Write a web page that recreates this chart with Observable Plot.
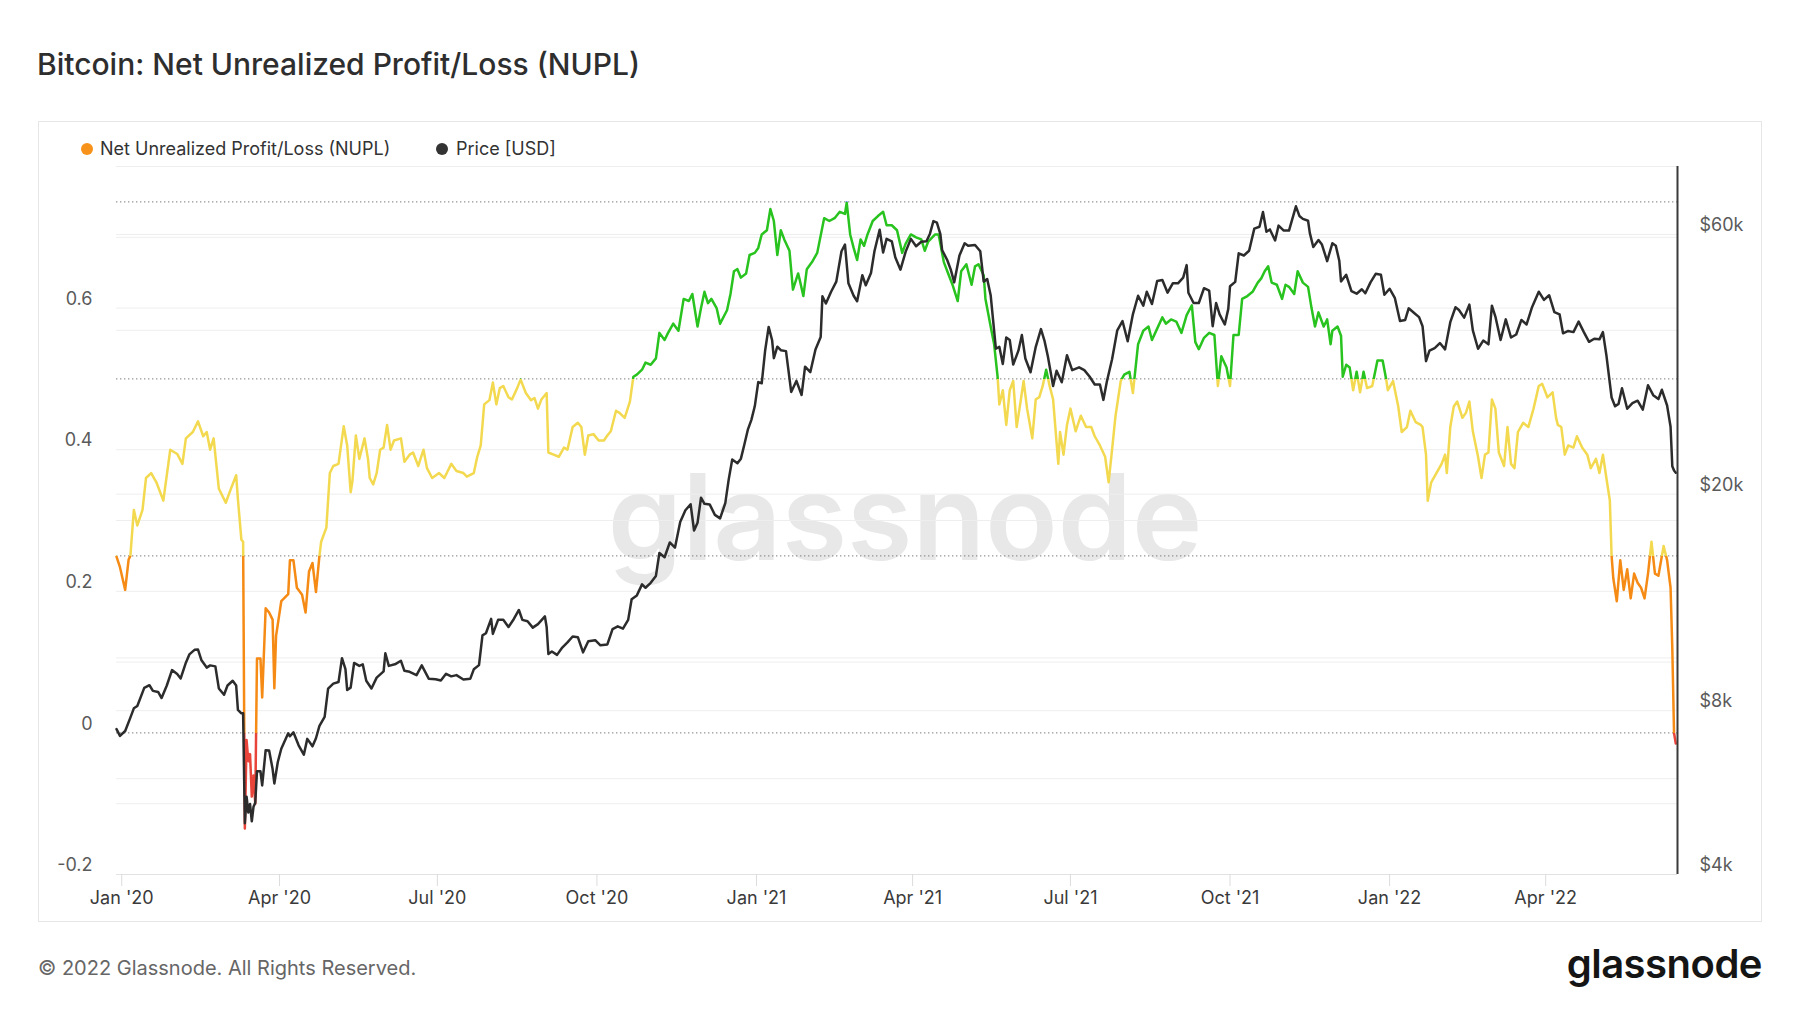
<!DOCTYPE html>
<html>
<head>
<meta charset="utf-8">
<script src="https://cdn.jsdelivr.net/npm/d3@7"></script>
<script src="https://cdn.jsdelivr.net/npm/@observablehq/plot@0.6"></script>
<style>
  html, body { margin: 0; padding: 0; background: #fff; }
  body { width: 1800px; height: 1013px; position: relative; overflow: hidden; font-family: Inter, "Noto Sans", sans-serif; color: #333; }
  #title { position: absolute; left: 37px; top: 49px; font-size: 30px; line-height: 30px; font-weight: 500; color: #2e2e2e; white-space: nowrap; }
  #card { position: absolute; left: 38px; top: 121px; width: 1722px; height: 799px; border: 1px solid #e6e6e6; box-sizing: content-box; }
  .leg { position: absolute; top: 140px; font-size: 18px; line-height: 18px; color: #333; white-space: nowrap; }
  .dot { position: absolute; top: 143px; width: 12px; height: 12px; border-radius: 50%; }
  .layer { position: absolute; left: 38px; top: 150px; }
  #footer { position: absolute; left: 38px; top: 958px; font-size: 20px; line-height: 20px; color: #666; white-space: nowrap; }
  #logo { position: absolute; right: 38px; top: 944px; font-size: 40px; line-height: 40px; font-weight: 600; color: #151515; letter-spacing: -0.5px; }
</style>
</head>
<body>
<div id="title">Bitcoin: Net Unrealized Profit/Loss (NUPL)</div>
<div id="card"></div>
<div class="dot" style="left:81px;background:#f7931a"></div>
<div class="leg" style="left:100px">Net Unrealized Profit/Loss (NUPL)</div>
<div class="dot" style="left:436px;background:#333"></div>
<div class="leg" style="left:456px">Price [USD]</div>
<div id="l1" class="layer"></div>
<div id="l2" class="layer"></div>
<div id="l3" class="layer"></div>
<div id="footer">© 2022 Glassnode. All Rights Reserved.</div>
<div id="logo">glassnode</div>
<script>
// ---------- data ----------
const nuplPoints = [
  ["2019-12-29",0.249],["2019-12-31",0.234],["2020-01-03",0.202],["2020-01-05",0.245],["2020-01-06",0.25],
  ["2020-01-08",0.315],["2020-01-10",0.293],["2020-01-13",0.315],["2020-01-15",0.36],["2020-01-18",0.367],
  ["2020-01-21",0.354],["2020-01-25",0.328],["2020-01-29",0.40],["2020-02-02",0.394],["2020-02-05",0.38],
  ["2020-02-07",0.416],["2020-02-11",0.425],["2020-02-14",0.44],["2020-02-17",0.419],["2020-02-19",0.425],
  ["2020-02-21",0.40],["2020-02-23",0.416],["2020-02-26",0.345],["2020-03-01",0.325],["2020-03-04",0.345],
  ["2020-03-07",0.364],["2020-03-08",0.33],["2020-03-10",0.273],["2020-03-11",0.27],["2020-03-12",-0.135],
  ["2020-03-13",-0.01],["2020-03-14",-0.04],["2020-03-15",-0.03],["2020-03-16",-0.09],["2020-03-17",-0.06],
  ["2020-03-18",-0.1],["2020-03-19",0.105],["2020-03-21",0.105],["2020-03-22",0.05],["2020-03-24",0.176],
  ["2020-03-26",0.17],["2020-03-28",0.16],["2020-03-29",0.063],["2020-03-30",0.137],["2020-04-02",0.186],
  ["2020-04-06",0.196],["2020-04-07",0.244],["2020-04-09",0.244],["2020-04-11",0.205],["2020-04-14",0.195],
  ["2020-04-16",0.17],["2020-04-18",0.228],["2020-04-20",0.24],["2020-04-22",0.199],["2020-04-24",0.25],
  ["2020-04-25",0.27],["2020-04-28",0.29],["2020-04-30",0.367],["2020-05-02",0.377],["2020-05-05",0.38],
  ["2020-05-08",0.433],["2020-05-10",0.406],["2020-05-12",0.34],["2020-05-13",0.355],["2020-05-15",0.42],
  ["2020-05-17",0.387],["2020-05-20",0.416],["2020-05-22",0.387],["2020-05-23",0.36],["2020-05-25",0.351],
  ["2020-05-27",0.367],["2020-05-29",0.40],["2020-05-31",0.403],["2020-06-02",0.435],["2020-06-04",0.40],
  ["2020-06-06",0.413],["2020-06-10",0.416],["2020-06-12",0.383],["2020-06-15",0.393],["2020-06-17",0.396],
  ["2020-06-20",0.377],["2020-06-23",0.40],["2020-06-25",0.374],["2020-06-28",0.36],["2020-07-02",0.367],
  ["2020-07-05",0.36],["2020-07-07",0.37],["2020-07-09",0.38],["2020-07-12",0.37],["2020-07-16",0.367],
  ["2020-07-18",0.362],["2020-07-22",0.367],["2020-07-24",0.39],["2020-07-26",0.406],["2020-07-28",0.464],
  ["2020-07-31",0.47],["2020-08-02",0.495],["2020-08-04",0.464],["2020-08-06",0.487],["2020-08-08",0.49],
  ["2020-08-11",0.474],["2020-08-13",0.471],["2020-08-16",0.487],["2020-08-18",0.499],["2020-08-21",0.48],
  ["2020-08-24",0.47],["2020-08-26",0.473],["2020-08-28",0.458],["2020-08-30",0.471],["2020-09-02",0.48],
  ["2020-09-03",0.396],["2020-09-06",0.393],["2020-09-09",0.39],["2020-09-12",0.403],["2020-09-14",0.40],
  ["2020-09-17",0.432],["2020-09-20",0.438],["2020-09-22",0.432],["2020-09-24",0.393],["2020-09-26",0.42],
  ["2020-09-29",0.422],["2020-10-02",0.413],["2020-10-05",0.413],["2020-10-07",0.42],["2020-10-09",0.426],
  ["2020-10-12",0.455],["2020-10-14",0.452],["2020-10-17",0.445],["2020-10-20",0.468],["2020-10-22",0.503],
  ["2020-10-24",0.506],["2020-10-27",0.513],["2020-10-29",0.523],["2020-11-01",0.52],["2020-11-04",0.529],
  ["2020-11-06",0.565],["2020-11-09",0.555],["2020-11-11",0.565],["2020-11-14",0.578],["2020-11-17",0.568],
  ["2020-11-20",0.613],["2020-11-23",0.61],["2020-11-25",0.62],["2020-11-28",0.574],["2020-11-30",0.60],
  ["2020-12-02",0.623],["2020-12-04",0.607],["2020-12-06",0.613],["2020-12-09",0.60],["2020-12-11",0.578],
  ["2020-12-15",0.597],["2020-12-17",0.62],["2020-12-19",0.652],["2020-12-21",0.655],["2020-12-23",0.643],
  ["2020-12-26",0.649],["2020-12-28",0.675],["2020-12-31",0.678],["2021-01-02",0.685],["2021-01-04",0.704],
  ["2021-01-07",0.71],["2021-01-09",0.74],["2021-01-11",0.723],["2021-01-13",0.675],["2021-01-15",0.71],
  ["2021-01-17",0.697],["2021-01-20",0.681],["2021-01-22",0.626],["2021-01-25",0.649],["2021-01-26",0.639],
  ["2021-01-28",0.617],["2021-01-30",0.655],["2021-02-02",0.665],["2021-02-05",0.678],["2021-02-09",0.727],
  ["2021-02-12",0.723],["2021-02-15",0.727],["2021-02-18",0.736],["2021-02-21",0.733],["2021-02-22",0.749],
  ["2021-02-24",0.704],["2021-02-26",0.685],["2021-02-28",0.668],["2021-03-02",0.697],["2021-03-04",0.688],
  ["2021-03-06",0.704],["2021-03-09",0.723],["2021-03-12",0.73],["2021-03-15",0.736],["2021-03-17",0.717],
  ["2021-03-20",0.717],["2021-03-23",0.71],["2021-03-26",0.678],["2021-03-28",0.691],["2021-03-31",0.704],
  ["2021-04-03",0.70],["2021-04-06",0.697],["2021-04-08",0.681],["2021-04-10",0.694],["2021-04-14",0.704],
  ["2021-04-16",0.704],["2021-04-19",0.665],["2021-04-21",0.652],["2021-04-24",0.633],["2021-04-27",0.61],
  ["2021-04-29",0.652],["2021-05-02",0.662],["2021-05-05",0.633],["2021-05-07",0.659],["2021-05-09",0.662],
  ["2021-05-12",0.646],["2021-05-13",0.613],["2021-05-16",0.574],["2021-05-18",0.549],["2021-05-20",0.503],
  ["2021-05-21",0.464],["2021-05-23",0.484],["2021-05-25",0.435],["2021-05-27",0.484],["2021-05-29",0.497],
  ["2021-05-31",0.432],["2021-06-02",0.464],["2021-06-04",0.497],["2021-06-06",0.458],["2021-06-09",0.416],
  ["2021-06-11",0.471],["2021-06-13",0.474],["2021-06-15",0.49],["2021-06-17",0.513],["2021-06-19",0.49],
  ["2021-06-21",0.471],["2021-06-24",0.38],["2021-06-25",0.425],["2021-06-27",0.393],["2021-06-29",0.435],
  ["2021-07-01",0.458],["2021-07-04",0.426],["2021-07-07",0.448],["2021-07-10",0.432],["2021-07-13",0.432],
  ["2021-07-15",0.419],["2021-07-18",0.406],["2021-07-21",0.39],["2021-07-23",0.354],["2021-07-25",0.40],
  ["2021-07-27",0.448],["2021-07-30",0.497],["2021-08-01",0.506],["2021-08-04",0.51],["2021-08-06",0.48],
  ["2021-08-09",0.549],["2021-08-12",0.568],["2021-08-15",0.574],["2021-08-17",0.555],["2021-08-20",0.571],
  ["2021-08-23",0.587],["2021-08-25",0.578],["2021-08-28",0.584],["2021-08-31",0.581],["2021-09-03",0.565],
  ["2021-09-06",0.59],["2021-09-09",0.604],["2021-09-11",0.552],["2021-09-13",0.542],["2021-09-16",0.558],
  ["2021-09-19",0.565],["2021-09-22",0.562],["2021-09-24",0.49],["2021-09-26",0.532],["2021-09-29",0.516],
  ["2021-10-01",0.49],["2021-10-03",0.562],["2021-10-06",0.562],["2021-10-08",0.613],["2021-10-11",0.617],
  ["2021-10-14",0.623],["2021-10-17",0.636],["2021-10-19",0.642],["2021-10-21",0.652],["2021-10-23",0.659],
  ["2021-10-25",0.636],["2021-10-28",0.633],["2021-10-31",0.613],["2021-11-02",0.633],["2021-11-04",0.63],
  ["2021-11-07",0.62],["2021-11-09",0.652],["2021-11-12",0.636],["2021-11-15",0.63],["2021-11-17",0.60],
  ["2021-11-19",0.574],["2021-11-21",0.594],["2021-11-24",0.574],["2021-11-26",0.584],["2021-11-28",0.549],
  ["2021-11-29",0.568],["2021-12-02",0.574],["2021-12-04",0.561],["2021-12-05",0.503],["2021-12-07",0.52],
  ["2021-12-09",0.516],["2021-12-11",0.484],["2021-12-13",0.51],["2021-12-15",0.481],["2021-12-17",0.51],
  ["2021-12-19",0.487],["2021-12-22",0.49],["2021-12-25",0.526],["2021-12-28",0.526],["2021-12-30",0.50],
  ["2021-12-31",0.484],["2022-01-03",0.497],["2022-01-06",0.461],["2022-01-08",0.425],["2022-01-11",0.432],
  ["2022-01-13",0.455],["2022-01-16",0.439],["2022-01-19",0.435],["2022-01-20",0.432],["2022-01-22",0.393],
  ["2022-01-23",0.328],["2022-01-25",0.354],["2022-01-28",0.367],["2022-01-31",0.38],["2022-02-02",0.393],
  ["2022-02-03",0.367],["2022-02-05",0.432],["2022-02-07",0.461],["2022-02-09",0.468],["2022-02-12",0.445],
  ["2022-02-14",0.452],["2022-02-16",0.468],["2022-02-18",0.426],["2022-02-21",0.39],["2022-02-23",0.36],
  ["2022-02-25",0.393],["2022-02-27",0.396],["2022-03-01",0.471],["2022-03-03",0.458],["2022-03-05",0.396],
  ["2022-03-08",0.377],["2022-03-10",0.432],["2022-03-12",0.38],["2022-03-14",0.374],["2022-03-16",0.425],
  ["2022-03-19",0.438],["2022-03-22",0.432],["2022-03-25",0.458],["2022-03-28",0.49],["2022-03-30",0.493],
  ["2022-04-02",0.474],["2022-04-05",0.481],["2022-04-07",0.445],["2022-04-08",0.435],["2022-04-10",0.432],
  ["2022-04-12",0.393],["2022-04-14",0.406],["2022-04-17",0.403],["2022-04-19",0.419],["2022-04-22",0.403],
  ["2022-04-25",0.393],["2022-04-27",0.374],["2022-04-30",0.387],["2022-05-02",0.367],["2022-05-04",0.393],
  ["2022-05-06",0.36],["2022-05-08",0.328],["2022-05-09",0.25],["2022-05-10",0.218],["2022-05-12",0.186],
  ["2022-05-14",0.244],["2022-05-16",0.202],["2022-05-18",0.231],["2022-05-20",0.19],["2022-05-22",0.225],
  ["2022-05-24",0.212],["2022-05-26",0.205],["2022-05-28",0.19],["2022-05-30",0.225],["2022-06-01",0.27],
  ["2022-06-03",0.225],["2022-06-05",0.222],["2022-06-08",0.264],["2022-06-10",0.244],["2022-06-12",0.205],
  ["2022-06-13",0.12],["2022-06-14",0.0],["2022-06-15",-0.015]
];

const pricePoints = [
  ["2019-12-29",7400],["2019-12-31",7190],["2020-01-03",7340],["2020-01-06",7770],["2020-01-08",8080],
  ["2020-01-10",8160],["2020-01-14",8810],["2020-01-17",8910],["2020-01-19",8700],["2020-01-22",8660],
  ["2020-01-24",8440],["2020-01-27",8900],["2020-01-30",9500],["2020-02-02",9340],["2020-02-04",9170],
  ["2020-02-07",9800],["2020-02-09",10150],["2020-02-12",10350],["2020-02-14",10360],["2020-02-16",9900],
  ["2020-02-19",9600],["2020-02-21",9690],["2020-02-24",9650],["2020-02-26",8790],["2020-02-29",8560],
  ["2020-03-02",8900],["2020-03-05",9080],["2020-03-07",8900],["2020-03-08",8030],["2020-03-10",7910],
  ["2020-03-11",7910],["2020-03-12",4970],["2020-03-13",5560],["2020-03-14",5200],["2020-03-15",5390],
  ["2020-03-16",5010],["2020-03-17",5330],["2020-03-18",5420],["2020-03-19",6190],["2020-03-21",6190],
  ["2020-03-22",5830],["2020-03-24",6770],["2020-03-26",6760],["2020-03-28",6250],["2020-03-29",5880],
  ["2020-03-31",6440],["2020-04-02",6810],["2020-04-06",7270],["2020-04-07",7180],["2020-04-09",7300],
  ["2020-04-12",6910],["2020-04-15",6640],["2020-04-17",7100],["2020-04-20",6880],["2020-04-22",7120],
  ["2020-04-24",7500],["2020-04-27",7790],["2020-04-29",8780],["2020-05-02",8970],["2020-05-05",9030],
  ["2020-05-07",9990],["2020-05-09",9540],["2020-05-10",8730],["2020-05-12",8820],["2020-05-14",9790],
  ["2020-05-17",9670],["2020-05-19",9730],["2020-05-21",9080],["2020-05-24",8790],["2020-05-27",9200],
  ["2020-05-31",9450],["2020-06-01",10200],["2020-06-03",9670],["2020-06-07",9750],["2020-06-10",9880],
  ["2020-06-12",9470],["2020-06-15",9430],["2020-06-19",9300],["2020-06-22",9690],["2020-06-26",9160],
  ["2020-06-30",9140],["2020-07-03",9090],["2020-07-06",9350],["2020-07-09",9250],["2020-07-12",9300],
  ["2020-07-16",9130],["2020-07-20",9160],["2020-07-22",9530],["2020-07-25",9700],["2020-07-27",11000],
  ["2020-07-29",11100],["2020-08-01",11800],["2020-08-02",11070],["2020-08-05",11750],["2020-08-08",11750],
  ["2020-08-11",11400],["2020-08-14",11780],["2020-08-17",12250],["2020-08-19",11750],["2020-08-22",11680],
  ["2020-08-25",11370],["2020-08-28",11540],["2020-09-01",11920],["2020-09-02",11400],["2020-09-03",10170],
  ["2020-09-05",10280],["2020-09-08",10130],["2020-09-11",10450],["2020-09-14",10680],["2020-09-17",10950],
  ["2020-09-20",10920],["2020-09-23",10240],["2020-09-26",10730],["2020-09-30",10780],["2020-10-03",10550],
  ["2020-10-07",10590],["2020-10-10",11300],["2020-10-13",11430],["2020-10-16",11320],["2020-10-19",11750],
  ["2020-10-21",12820],["2020-10-24",13030],["2020-10-27",13650],["2020-10-29",13460],["2020-11-01",13740],
  ["2020-11-04",14150],["2020-11-06",15590],["2020-11-09",15310],["2020-11-12",16300],["2020-11-15",15950],
  ["2020-11-18",17780],["2020-11-21",18680],["2020-11-24",19160],["2020-11-26",17150],["2020-11-28",17720],
  ["2020-11-30",19700],["2020-12-02",19200],["2020-12-05",19150],["2020-12-08",18320],["2020-12-11",18050],
  ["2020-12-14",19250],["2020-12-16",21310],["2020-12-18",23150],["2020-12-21",22790],["2020-12-23",23240],
  ["2020-12-25",24670],["2020-12-27",26270],["2020-12-29",27360],["2020-12-31",29000],["2021-01-02",32130],
  ["2021-01-04",31970],["2021-01-06",36770],["2021-01-08",40580],["2021-01-10",38350],["2021-01-11",35550],
  ["2021-01-13",37320],["2021-01-15",36770],["2021-01-18",36630],["2021-01-21",30820],["2021-01-24",32290],
  ["2021-01-27",30430],["2021-01-29",34300],["2021-02-01",33510],["2021-02-04",36880],["2021-02-07",38900],
  ["2021-02-08",46200],["2021-02-10",44800],["2021-02-13",47100],["2021-02-16",49150],["2021-02-19",55900],
  ["2021-02-21",57500],["2021-02-23",48800],["2021-02-26",46300],["2021-02-28",45240],["2021-03-03",50500],
  ["2021-03-05",48400],["2021-03-08",50970],["2021-03-10",55900],["2021-03-13",61200],["2021-03-15",55600],
  ["2021-03-17",58900],["2021-03-20",58300],["2021-03-22",54500],["2021-03-25",51700],["2021-03-28",55800],
  ["2021-03-31",58900],["2021-04-03",57100],["2021-04-06",58200],["2021-04-09",58300],["2021-04-11",60200],
  ["2021-04-13",63500],["2021-04-15",63100],["2021-04-17",60100],["2021-04-18",56200],["2021-04-21",53800],
  ["2021-04-23",51700],["2021-04-25",49000],["2021-04-28",54900],["2021-05-01",57800],["2021-05-03",57200],
  ["2021-05-07",57400],["2021-05-10",55900],["2021-05-12",49150],["2021-05-14",49700],["2021-05-16",46400],
  ["2021-05-19",37000],["2021-05-21",37300],["2021-05-23",34700],["2021-05-25",38800],["2021-05-27",38400],
  ["2021-05-29",34600],["2021-06-01",36700],["2021-06-03",39200],["2021-06-05",35500],["2021-06-08",33500],
  ["2021-06-11",37300],["2021-06-14",40200],["2021-06-16",38300],["2021-06-18",35800],["2021-06-21",31600],
  ["2021-06-23",33700],["2021-06-26",32100],["2021-06-29",36000],["2021-07-02",33800],["2021-07-06",34200],
  ["2021-07-09",33800],["2021-07-12",32900],["2021-07-15",31800],["2021-07-18",31800],["2021-07-20",29800],
  ["2021-07-22",32200],["2021-07-25",35400],["2021-07-28",40000],["2021-07-31",41600],["2021-08-03",38200],
  ["2021-08-06",42800],["2021-08-09",46300],["2021-08-12",44400],["2021-08-14",47100],["2021-08-17",44700],
  ["2021-08-20",49300],["2021-08-23",49500],["2021-08-26",46900],["2021-08-29",48800],["2021-09-01",48800],
  ["2021-09-04",50000],["2021-09-06",52700],["2021-09-07",46900],["2021-09-10",44900],["2021-09-13",44900],
  ["2021-09-16",47800],["2021-09-19",47300],["2021-09-21",40700],["2021-09-23",44900],["2021-09-25",42800],
  ["2021-09-28",41000],["2021-09-30",43800],["2021-10-01",48200],["2021-10-04",49100],["2021-10-06",55400],
  ["2021-10-09",54900],["2021-10-12",56000],["2021-10-15",61500],["2021-10-18",62000],["2021-10-20",66000],
  ["2021-10-22",60700],["2021-10-24",61300],["2021-10-27",58500],["2021-10-29",62300],["2021-11-01",61000],
  ["2021-11-04",61000],["2021-11-08",67600],["2021-11-10",64900],["2021-11-12",64100],["2021-11-15",63600],
  ["2021-11-16",60400],["2021-11-18",56900],["2021-11-21",58600],["2021-11-23",57500],["2021-11-26",53600],
  ["2021-11-29",57800],["2021-12-01",57200],["2021-12-03",53700],["2021-12-04",49200],["2021-12-07",50600],
  ["2021-12-10",47200],["2021-12-13",46700],["2021-12-16",47600],["2021-12-18",46800],["2021-12-21",49000],
  ["2021-12-24",50800],["2021-12-27",50600],["2021-12-29",46500],["2022-01-01",47700],["2022-01-04",45900],
  ["2022-01-07",41600],["2022-01-10",41800],["2022-01-12",43900],["2022-01-15",43100],["2022-01-18",42300],
  ["2022-01-20",40700],["2022-01-22",35100],["2022-01-24",36700],["2022-01-27",37100],["2022-01-30",37900],
  ["2022-02-02",36900],["2022-02-05",41400],["2022-02-08",44100],["2022-02-10",43600],["2022-02-13",42200],
  ["2022-02-16",44600],["2022-02-18",40000],["2022-02-21",37000],["2022-02-24",38300],["2022-02-27",37700],
  ["2022-03-01",44400],["2022-03-03",42400],["2022-03-06",38400],["2022-03-09",41900],["2022-03-12",38800],
  ["2022-03-15",39300],["2022-03-18",41800],["2022-03-21",41000],["2022-03-24",44000],["2022-03-28",47100],
  ["2022-03-31",45500],["2022-04-03",46400],["2022-04-06",43200],["2022-04-09",42800],["2022-04-11",39500],
  ["2022-04-14",39900],["2022-04-17",39700],["2022-04-20",41500],["2022-04-23",39700],["2022-04-26",38100],
  ["2022-04-29",38600],["2022-05-02",38500],["2022-05-04",39700],["2022-05-06",36000],["2022-05-09",30100],
  ["2022-05-11",29000],["2022-05-13",29300],["2022-05-15",31300],["2022-05-18",28700],["2022-05-21",29400],
  ["2022-05-24",29700],["2022-05-27",28600],["2022-05-30",31700],["2022-06-02",30400],["2022-06-05",29900],
  ["2022-06-07",31100],["2022-06-10",29100],["2022-06-12",26600],["2022-06-13",22500],["2022-06-14",22100],
  ["2022-06-15",21900]
];

const xDomain = ["2019-12-29", "2022-06-16"];
const nuplDomain = [-0.2, 0.8];
const priceDomain = [4000, 80000];
const xTickDates = ["2020-01-01","2020-04-01","2020-07-01","2020-10-01","2021-01-01","2021-04-01","2021-07-01","2021-10-01","2022-01-01","2022-04-01"];
const xTickLabels = ["Jan '20","Apr '20","Jul '20","Oct '20","Jan '21","Apr '21","Jul '21","Oct '21","Jan '22","Apr '22"];
const nuplGrid = [-0.1, 0.1, 0.2, 0.3, 0.4, 0.6, 0.7, 0.8];
const nuplTickValues = [0.6, 0.4, 0.2, 0, -0.2];
const nuplTickLabels = ["0.6", "0.4", "0.2", "0", "-0.2"];
const zoneBreaks = [0, 0.25, 0.5, 0.75];
const zoneColors = ["#e8443a", "#f58a14", "#f3d94f", "#28c31e", "#2f6fe0"]; // <0, 0-.25, .25-.5, .5-.75, >.75
const priceGrid = [6000, 8000, 10000, 20000, 40000, 60000];
const priceTickValues = [60000, 20000, 8000, 4000];
const priceTickLabels = ["$60k", "$20k", "$8k", "$4k"];

// ---------- build ----------
const nupl = nuplPoints.map(([d, v]) => ({date: new Date(d), value: v}));
const price = pricePoints.map(([d, v]) => ({date: new Date(d), value: v}));
const xDom = xDomain.map(d => new Date(d));
const xTicks = xTickDates.map(d => new Date(d));

const W = 1724, H = 772;
const frame = {width: W, height: H, marginTop: 16, marginBottom: 48, marginLeft: 78, marginRight: 85};
const baseStyle = {background: "transparent", fontFamily: "Inter, 'Noto Sans', sans-serif", overflow: "visible"};

// Layer 1: price scale grid + right labels + watermark
const layer1 = Plot.plot({
  ...frame, style: baseStyle,
  x: {type: "utc", domain: xDom, axis: null},
  y: {type: "log", domain: priceDomain, axis: null},
  marks: [
    Plot.text(["glassnode"], {frameAnchor: "middle", text: d => d, fontSize: 119, fontWeight: 600, fill: "#e8e8e8", dx: 8, dy: 1}),
    Plot.ruleY(priceGrid, {stroke: "#eeeeee", strokeWidth: 1}),
    Plot.text(priceTickValues, {y: d => d, text: (d, i) => priceTickLabels[i], frameAnchor: "right", textAnchor: "start", dx: 22, dy: -9, fontSize: 18, fill: "#5a5a5a"})
  ]
});
document.getElementById("l1").appendChild(layer1);

// Layer 2: NUPL grid, zone lines, axes labels, NUPL line
const layer2 = Plot.plot({
  ...frame, style: baseStyle,
  x: {type: "utc", domain: xDom, axis: null},
  y: {domain: nuplDomain, axis: null},
  marks: [
    Plot.ruleY(nuplGrid, {stroke: "#eeeeee", strokeWidth: 1}),
    Plot.ruleY([nuplDomain[0]], {stroke: "#e2e2e2", strokeWidth: 1}),
    Plot.ruleX(xTicks, {x: d => d, y1: nuplDomain[0], y2: nuplDomain[0] - 0.017, stroke: "#dcdcdc"}),
    Plot.ruleY(zoneBreaks, {stroke: "#7a7a7a", strokeWidth: 1, strokeDasharray: "1.4,2.6"}),
    Plot.text(nuplTickValues, {y: d => d, text: (d, i) => nuplTickLabels[i], frameAnchor: "left", textAnchor: "end", dx: -24, dy: -9, fontSize: 18, fill: "#5a5a5a"}),
    Plot.text(xTicks, {x: d => d, text: (d, i) => xTickLabels[i], frameAnchor: "bottom", dy: 29, fontSize: 18, fill: "#3a3a3a"}),
    Plot.lineY(nupl, {x: "date", y: "value", stroke: zoneColors[2], strokeWidth: 2.5, strokeLinejoin: "round"})
  ]
});
document.getElementById("l2").appendChild(layer2);

// zone gradient built from the NUPL y scale
{
  const ys = layer2.scale("y");
  const yLin = d3.scaleLinear().domain(ys.domain).range(ys.range);
  const top = yLin(nuplDomain[1]), bot = yLin(nuplDomain[0]);
  const off = v => (yLin(v) - top) / (bot - top);
  const stops = [
    [0, zoneColors[4]], [off(zoneBreaks[3]), zoneColors[4]],
    [off(zoneBreaks[3]), zoneColors[3]], [off(zoneBreaks[2]), zoneColors[3]],
    [off(zoneBreaks[2]), zoneColors[2]], [off(zoneBreaks[1]), zoneColors[2]],
    [off(zoneBreaks[1]), zoneColors[1]], [off(zoneBreaks[0]), zoneColors[1]],
    [off(zoneBreaks[0]), zoneColors[0]], [1, zoneColors[0]]
  ];
  const svg = d3.select(layer2);
  const defs = svg.insert("defs", ":first-child");
  const g = defs.append("linearGradient").attr("id", "nuplZones")
    .attr("gradientUnits", "userSpaceOnUse")
    .attr("x1", 0).attr("x2", 0).attr("y1", top).attr("y2", bot);
  stops.forEach(([o, c]) => g.append("stop").attr("offset", o).attr("stop-color", c));
  svg.selectAll('g[aria-label="line"]').attr("stroke", "url(#nuplZones)");
  svg.selectAll('g[aria-label="line"] path').attr("stroke", "url(#nuplZones)");
}

// Layer 3: price line + end marker
const layer3 = Plot.plot({
  ...frame, style: baseStyle,
  x: {type: "utc", domain: xDom, axis: null},
  y: {type: "log", domain: priceDomain, axis: null},
  marks: [
    Plot.lineY(price, {x: "date", y: "value", stroke: "#2c2c2c", strokeWidth: 2.5, strokeLinejoin: "round"}),
    Plot.ruleX([xDom[1]], {stroke: "#3a3a3a", strokeWidth: 2})
  ]
});
document.getElementById("l3").appendChild(layer3);
</script>
</body>
</html>
